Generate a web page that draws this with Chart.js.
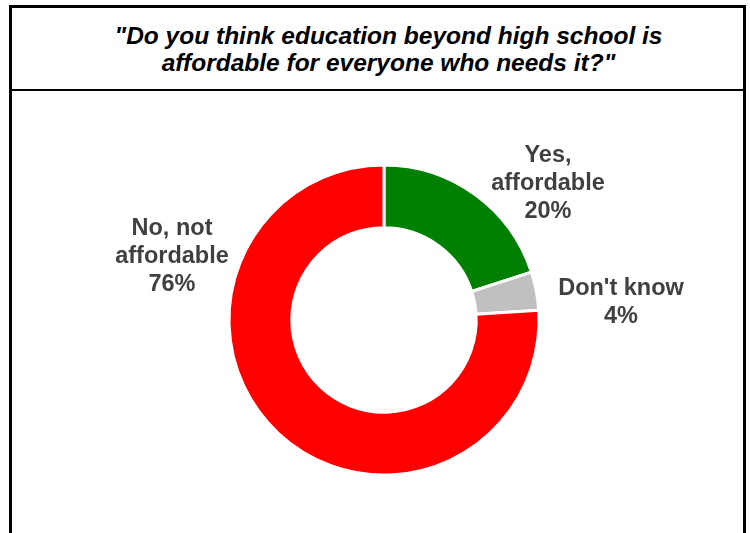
<!DOCTYPE html>
<html>
<head>
<meta charset="utf-8">
<script src="https://cdn.jsdelivr.net/npm/chart.js@4.4.1/dist/chart.umd.min.js"></script>
<style>
  html, body { margin: 0; padding: 0; background: #fff; }
  body { width: 750px; height: 533px; position: relative; overflow: hidden; }
  #frame {
    position: absolute; left: 9px; top: 5px; width: 731px; height: 540px;
    border: 3px solid #000; border-bottom: none;
  }
  #title {
    height: 81px; border-bottom: 2px solid #000; box-sizing: content-box;
    font-family: "Liberation Sans", Arial, sans-serif; font-weight: bold; font-style: italic;
    font-size: 24.5px; line-height: 27px; text-align: center; color: #000;
    padding-left: 22px; display: flex; align-items: center; justify-content: center;
  }
  #chart { position: absolute; left: 0; top: 0; }
</style>
</head>
<body>
<div id="frame">
  <div id="title"><div>"Do you think education beyond high school is<br>affordable for everyone who needs it?"</div></div>
</div>
<canvas id="chart" width="750" height="533"></canvas>
<script>
// Respuestas a la encuesta
const categories = ["Yes, affordable", "Don't know", "No, not affordable"];
const shares = [20, 4, 76];
const labelLines = [["Yes,", "affordable", "20%"], ["Don't know", "4%"], ["No, not", "affordable", "76%"]];
const sliceColors = ["#008000", "#C0C0C0", "#FF0000"];

// Posición de cada etiqueta respecto al centro del anillo (línea central)
const labelOffsets = [
  { x: 164, y: -130 },
  { x: 237, y: -11 },
  { x: -212, y: -57 }
];

// Dibuja las etiquetas de texto alrededor del anillo
const sliceLabels = {
  id: 'sliceLabels',
  afterDatasetsDraw(chart) {
    const ctx = chart.ctx;
    const arc = chart.getDatasetMeta(0).data[0];
    const cx = arc.x, cy = arc.y;
    ctx.save();
    ctx.font = 'bold 23.5px "Liberation Sans", Arial, sans-serif';
    ctx.fillStyle = '#404040';
    ctx.textAlign = 'center';
    ctx.textBaseline = 'alphabetic';
    labelLines.forEach((lines, i) => {
      const off = labelOffsets[i];
      const n = lines.length;
      lines.forEach((line, j) => {
        const y = cy + off.y + (j - (n - 1) / 2) * 28;
        ctx.fillText(line, cx + off.x, y);
      });
    });
    ctx.restore();
  }
};

new Chart(document.getElementById('chart').getContext('2d'), {
  type: 'doughnut',
  data: {
    labels: categories,
    datasets: [{
      data: shares,
      backgroundColor: sliceColors,
      borderColor: '#ffffff',
      borderWidth: 3,
      hoverOffset: 0
    }]
  },
  options: {
    responsive: false,
    animation: false,
    radius: 155,
    cutout: '59.5%',
    rotation: 0,
    layout: { padding: { left: 18, right: 0, top: 107, bottom: 0 } },
    plugins: {
      legend: { display: false },
      tooltip: { enabled: false },
      title: { display: false }
    }
  },
  plugins: [sliceLabels]
});
</script>
</body>
</html>
